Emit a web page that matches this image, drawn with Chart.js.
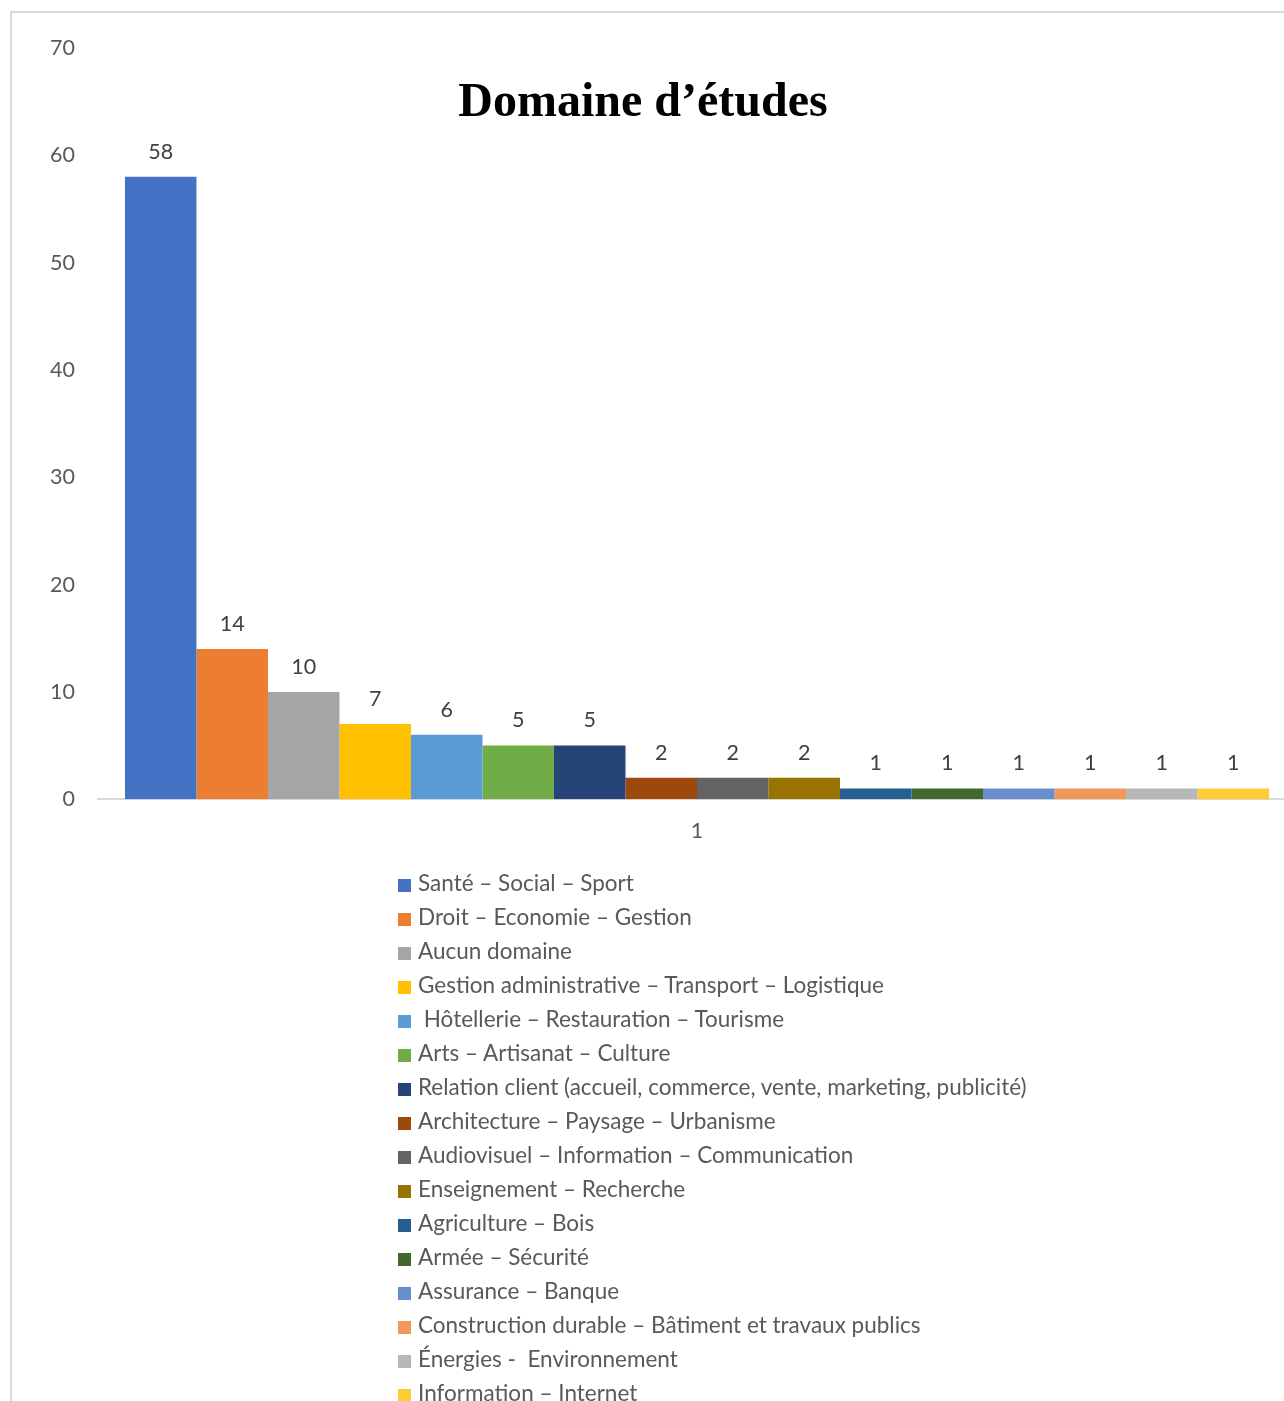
<!DOCTYPE html>
<html>
<head>
<meta charset="utf-8">
<script src="https://cdn.jsdelivr.net/npm/chart.js@4/dist/chart.umd.min.js"></script>
<style>
  body { margin: 0; width: 1284px; height: 1401px; overflow: hidden; position: relative; background: #fff; }
  #frame { position: absolute; left: 10px; top: 11px; width: 1400px; height: 1500px;
           border-top: 2px solid #d9d9d9; border-left: 2px solid #d9d9d9; }
  #wrap { position: absolute; left: -10px; top: 0; width: 1320px; height: 871px; }
  #legend { position: absolute; left: 398px; top: 866px; margin: 0; padding: 0; list-style: none;
            font-family: Lato, sans-serif; font-size: 22.5px; color: #595959; }
  #legend li { height: 34px; line-height: 34px; white-space: pre; }
  #legend span.box { display: inline-block; width: 13px; height: 13px; margin-right: 7px; vertical-align: -1px; }
</style>
</head>
<body>
<div id="frame"></div>
<div id="wrap"><canvas id="chart"></canvas></div>
<ul id="legend"></ul>
<script>
// data
const categories = ['1'];
const domaines = [
  'Santé – Social – Sport',
  'Droit – Economie – Gestion',
  'Aucun domaine',
  'Gestion administrative – Transport – Logistique',
  ' Hôtellerie – Restauration – Tourisme',
  'Arts – Artisanat – Culture',
  'Relation client (accueil, commerce, vente, marketing, publicité)',
  'Architecture – Paysage – Urbanisme',
  'Audiovisuel – Information – Communication',
  'Enseignement – Recherche',
  'Agriculture – Bois',
  'Armée – Sécurité',
  'Assurance – Banque',
  'Construction durable – Bâtiment et travaux publics',
  'Énergies -  Environnement',
  'Information – Internet'
];
const valeurs = [58, 14, 10, 7, 6, 5, 5, 2, 2, 2, 1, 1, 1, 1, 1, 1];
const couleurs = [
  '#4472C4', '#ED7D31', '#A5A5A5', '#FFC000', '#5B9BD5', '#70AD47', '#264478', '#9E480E',
  '#636363', '#997300', '#255E91', '#43682B', '#698ED0', '#F1975A', '#B7B7B7', '#FFCD33'
];
const yTicks = [0, 10, 20, 30, 40, 50, 60, 70];

var datasets = domaines.map(function(nom, i) {
  return {
    label: nom,
    data: [valeurs[i]],
    backgroundColor: couleurs[i],
    borderWidth: 0
  };
});

// value labels above each bar
const valueLabels = {
  id: 'valueLabels',
  afterDatasetsDraw: function(chart) {
    const ctx = chart.ctx;
    ctx.save();
    ctx.font = '21.5px Lato';
    ctx.fillStyle = '#404040';
    ctx.textAlign = 'center';
    ctx.textBaseline = 'middle';
    chart.data.datasets.forEach(function(ds, i) {
      chart.getDatasetMeta(i).data.forEach(function(bar, j) {
        ctx.fillText(ds.data[j], bar.x, bar.y - 25);
      });
    });
    ctx.restore();
  }
};

const chart = new Chart(document.getElementById('chart'), {
  type: 'bar',
  data: { labels: categories, datasets: datasets },
  plugins: [valueLabels],
  options: {
    responsive: true,
    maintainAspectRatio: false,
    animation: false,
    layout: { padding: { left: 0, right: 14, top: 0, bottom: 8 } },
    datasets: { bar: { categoryPercentage: 0.955, barPercentage: 1 } },
    plugins: {
      legend: { display: false },
      tooltip: { enabled: false },
      title: {
        display: true,
        text: 'Domaine d’études',
        color: '#000',
        font: { family: '"Liberation Serif", "Times New Roman", serif', size: 48, weight: 'bold' },
        padding: { top: 75, bottom: -84.6 }
      }
    },
    scales: {
      x: {
        grid: { display: false, drawTicks: false },
        border: { display: true, color: '#d9d9d9', width: 2 },
        ticks: { color: '#595959', font: { family: 'Lato', size: 21.5 }, padding: 19 }
      },
      y: {
        min: 0,
        max: 70,
        grid: { display: false, drawTicks: false },
        border: { display: false },
        afterFit: function(scale) { scale.width = 108; },
        afterBuildTicks: function(scale) { scale.ticks = yTicks.map(function(v) { return { value: v }; }); },
        ticks: { color: '#595959', font: { family: 'Lato', size: 21.5 }, padding: 23 }
      }
    }
  }
});

// legend list under the chart
var legend = document.getElementById('legend');
domaines.forEach(function(nom, i) {
  var li = document.createElement('li');
  var box = document.createElement('span');
  box.className = 'box';
  box.style.background = couleurs[i];
  li.appendChild(box);
  li.appendChild(document.createTextNode(nom));
  legend.appendChild(li);
});
</script>
</body>
</html>
